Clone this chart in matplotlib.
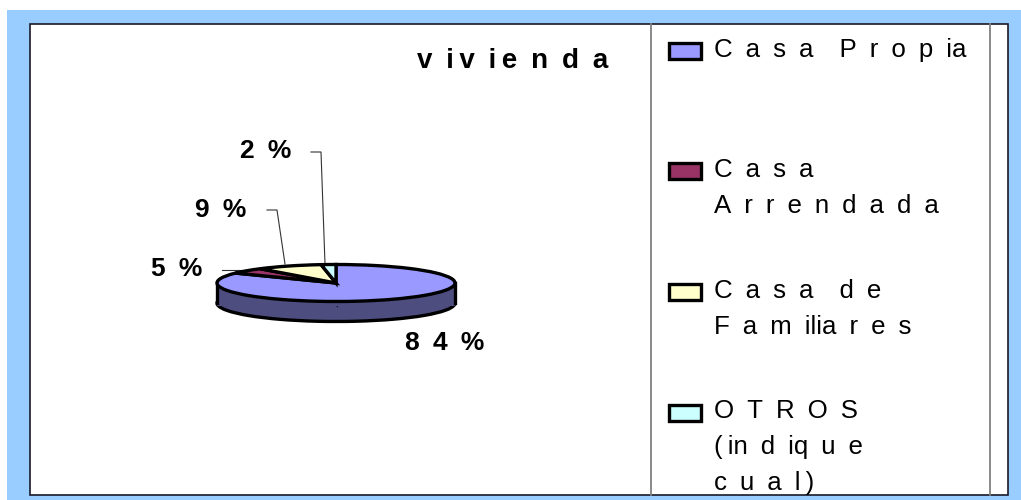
import matplotlib
matplotlib.use("Agg")
import matplotlib.pyplot as plt
from matplotlib.patches import Rectangle

plt.rcParams['font.family'] = ['Liberation Sans', 'DejaVu Sans']

W, H = 1021, 500

categories = ["Casa Propia", "Casa Arrendada", "Casa de Familiares", "OTROS (indique cual)"]
values = [84, 5, 9, 2]
pct_labels = ["8 4 %", "5 %", "9 %", "2 %"]
colors = ["#9999FF", "#993366", "#FFFFCC", "#CCFFFF"]
side_color = "#4D4D80"
# "|" is a thin gap, a space is a wide one
legend_lines = [["C a s a  P r o p ia"],
                ["C a s a", "A r r e n d a d a"],
                ["C a s a  d e", "F a m ilia r e s"],
                ["O T R O S", "(|in d iq u e", "c u a l|)"]]
title = "v i|v i|e n d a"


def sp(s):
    return s.replace(" ", "\u2002").replace("|", "\u2009")


fig = plt.figure(figsize=(W / 100, H / 100), dpi=100, facecolor="white")
bg = fig.add_axes([0, 0, 1, 1])
bg.set_xlim(0, W)
bg.set_ylim(H, 0)
bg.axis("off")

# blue band, then the white chart area
bg.add_patch(Rectangle((7, 10), W - 7, H - 10, fc="#99CCFF", ec="none"))
bg.add_patch(Rectangle((30, 24), 978, 471, fc="white", ec="#1a1a2a", lw=1.2))
bg.plot([651, 651], [24, 495], color="#808080", lw=1.3)
bg.plot([990, 990], [24, 495], color="#808080", lw=1.3)

bg.text(608, 68, sp(title), fontsize=20, fontweight="bold", ha="right", va="baseline")

# legend
swatch_y = [42.5, 163, 283.5, 404.5]
baselines = [[57], [177, 213], [298, 334], [418, 454, 490]]
for names, y, base, c in zip(legend_lines, swatch_y, baselines, colors):
    bg.add_patch(Rectangle((668.5, y), 32, 16, fc=c, ec="black", lw=2.4))
    for line, b in zip(names, base):
        bg.text(714, b, sp(line), fontsize=18.6, va="baseline", ha="left")

# pie axes, squashed to give the tilted look
cx, cy, rx, ry, depth = 336, 283, 119, 18.5, 20
pie_ax = fig.add_axes([(cx - rx) / W, 1 - (cy + ry + depth) / H, 2 * rx / W, (2 * ry + depth) / H])
pie_ax.patch.set_alpha(0)


def draw_pie(center_y, cols):
    pie_ax.pie(values, colors=cols, startangle=90, counterclock=False, radius=1,
               center=(0, center_y), wedgeprops=dict(edgecolor="black", linewidth=2.4))


unit = depth / ry
draw_pie(-unit, [side_color] * 4)
pie_ax.add_patch(Rectangle((-1, -unit - 0.15), 2, unit + 0.15, fc=side_color, ec="none", zorder=1.5))
pie_ax.plot([-1, -1], [-unit, 0], color="black", lw=2.4, zorder=1.6)
pie_ax.plot([1, 1], [-unit, 0], color="black", lw=2.4, zorder=1.6)
draw_pie(0, colors)
for p in pie_ax.patches[-4:]:
    p.set_zorder(3)
pie_ax.set_aspect("auto")
pie_ax.set_xlim(-1, 1)
pie_ax.set_ylim(-1 - unit, 1)
for a in pie_ax.patches + pie_ax.lines:
    a.set_clip_on(False)

# percent labels and leader lines
label_pos = [(445, 343), (177, 269), (221, 210), (266, 151)]
for s, (x, y) in zip(pct_labels, label_pos):
    bg.text(x, y, sp(s), fontsize=19, fontweight="bold", ha="center", va="center")
bg.plot([222, 250], [270, 270], color="#333333", lw=0.8)
bg.plot([267, 277, 285], [210, 210, 264], color="#333333", lw=0.8)
bg.plot([311, 321, 325], [152, 152, 264], color="#333333", lw=0.8)

fig.savefig("out.png", dpi=100, facecolor="white")
